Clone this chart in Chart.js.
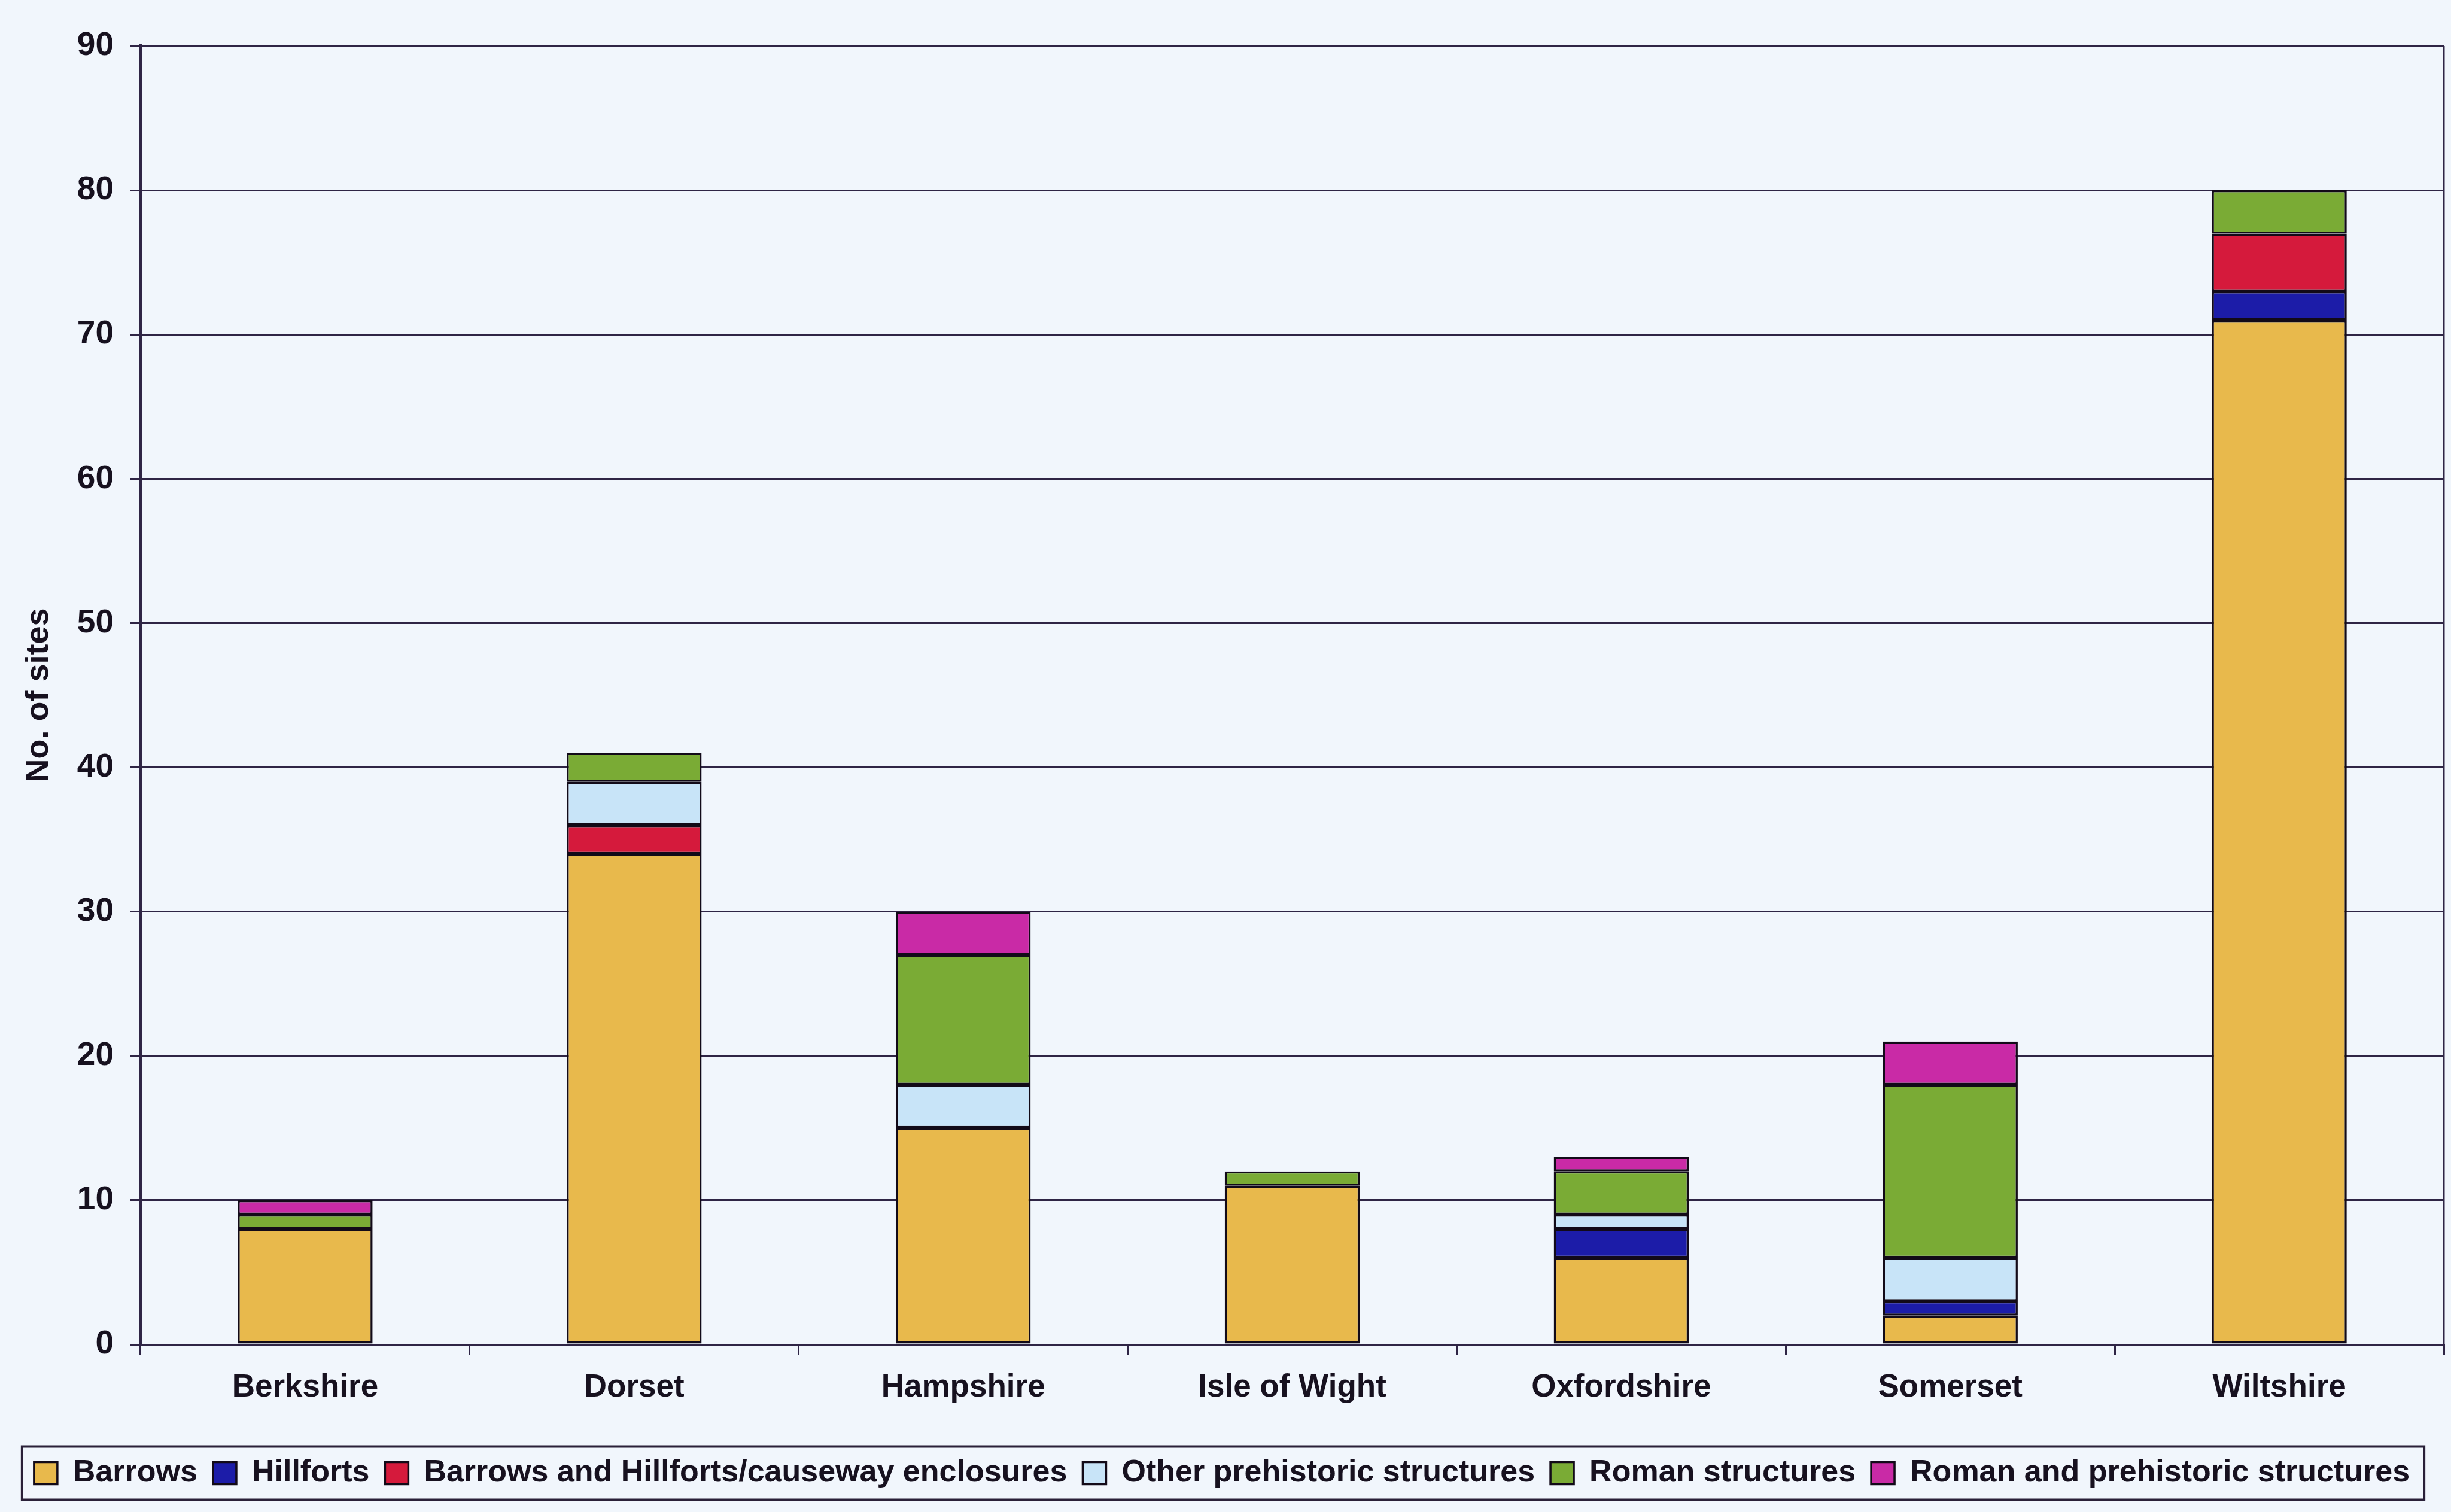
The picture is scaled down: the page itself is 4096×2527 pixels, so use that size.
<!DOCTYPE html>
<html>
<head>
<meta charset="utf-8">
<script src="https://cdn.jsdelivr.net/npm/chart.js@4/dist/chart.umd.min.js"></script>
<style>
  html, body { margin: 0; padding: 0; background: #f1f6fc; }
  #wrap { width: 4096px; height: 2527px; position: relative; }
</style>
</head>
<body>
<div id="wrap"><canvas id="chart"></canvas></div>
<script>
// Sites par comté, empilés par type de monument associé
const counties = ["Berkshire", "Dorset", "Hampshire", "Isle of Wight", "Oxfordshire", "Somerset", "Wiltshire"];
const barrows = [8, 34, 15, 11, 6, 2, 71];
const hillforts = [0, 0, 0, 0, 2, 1, 2];
const barrowsHillforts = [0, 2, 0, 0, 0, 0, 4];
const otherPrehistoric = [0, 3, 3, 0, 1, 3, 0];
const roman = [1, 2, 9, 1, 3, 12, 3];
const romanPrehistoric = [1, 0, 3, 0, 1, 3, 0];

const FONT = "'Liberation Sans', Arial, sans-serif";
const INK = "#17111f";
const LINE = "#2f2545";
const EDGE = "#120a18";

function series(label, data, color) {
  return {
    label,
    data,
    backgroundColor: color,
    borderColor: EDGE,
    borderWidth: 3.5,
    borderSkipped: false,
    barPercentage: 0.41,
    categoryPercentage: 1,
  };
}

// fond de page + cadre droit de la zone de tracé + cadre de la légende
const decor = {
  id: "decor",
  beforeDraw(chart) {
    const ctx = chart.ctx;
    ctx.save();
    ctx.fillStyle = "#f1f6fc";
    ctx.fillRect(0, 0, chart.width, chart.height);
    ctx.restore();
  },
  afterDraw(chart) {
    const ctx = chart.ctx;
    const a = chart.chartArea;
    ctx.save();
    ctx.strokeStyle = LINE;
    ctx.lineWidth = 3;
    ctx.beginPath();
    ctx.moveTo(a.right, a.top);
    ctx.lineTo(a.right, a.bottom);
    ctx.stroke();

    const boxes = chart.legend.legendHitBoxes;
    if (boxes && boxes.length) {
      const left = Math.min(...boxes.map((b) => b.left)) - 20;
      const right = Math.max(...boxes.map((b) => b.left + b.width)) + 24;
      const mid = boxes[0].top + boxes[0].height / 2;
      ctx.strokeStyle = "#2a2038";
      ctx.lineWidth = 4;
      ctx.strokeRect(left, mid - 44.5, right - left, 89);
    }
    ctx.restore();
  },
};

new Chart(document.getElementById("chart"), {
  type: "bar",
  data: {
    labels: counties,
    datasets: [
      series("Barrows", barrows, "#e8b94c"),
      series("Hillforts", hillforts, "#1c1ca8"),
      series("Barrows and Hillforts/causeway enclosures", barrowsHillforts, "#d51a3c"),
      series("Other prehistoric structures", otherPrehistoric, "#c8e4f8"),
      series("Roman structures", roman, "#7aab35"),
      series("Roman and prehistoric structures", romanPrehistoric, "#c92aa6"),
    ],
  },
  options: {
    responsive: true,
    maintainAspectRatio: false,
    animation: false,
    devicePixelRatio: 1,
    layout: { padding: { top: 77, right: 12, bottom: 29, left: 0 } },
    plugins: {
      tooltip: { enabled: false },
      legend: {
        position: "bottom",
        labels: {
          font: { family: FONT, size: 52, weight: "bold" },
          color: INK,
          boxWidth: 39,
          boxHeight: 37,
          padding: 26,
        },
      },
    },
    scales: {
      x: {
        stacked: true,
        afterFit: (s) => { s.height = 163; },
        grid: { display: true, drawOnChartArea: false, offset: true, tickLength: 18, color: LINE, lineWidth: 3 },
        border: { display: true, color: LINE, width: 3 },
        ticks: { font: { family: FONT, size: 53, weight: "bold" }, color: INK, padding: 23, maxRotation: 0 },
      },
      y: {
        stacked: true,
        min: 0,
        max: 90,
        afterFit: (s) => { s.width = 235; },
        grid: { color: LINE, lineWidth: 3, tickLength: 18 },
        border: { display: true, color: LINE, width: 6 },
        ticks: { stepSize: 10, font: { family: FONT, size: 55, weight: "bold" }, color: INK, padding: 27 },
        title: {
          display: true,
          text: "No. of sites",
          font: { family: FONT, size: 54, weight: "bold" },
          color: INK,
          padding: { top: 33, bottom: 0 },
        },
      },
    },
  },
  plugins: [decor],
});
</script>
</body>
</html>
